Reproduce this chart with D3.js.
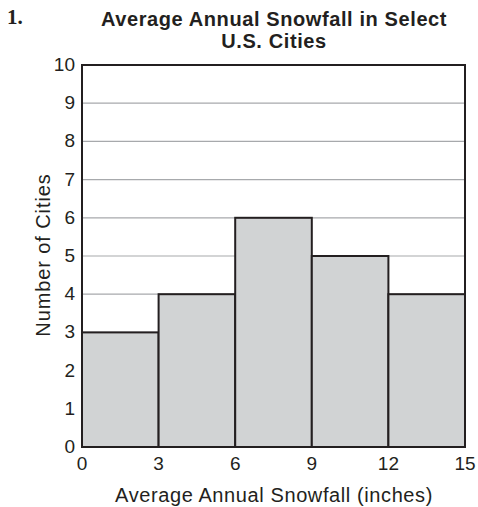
<!DOCTYPE html>
<html>
<head>
<meta charset="utf-8">
<script src="https://cdn.jsdelivr.net/npm/d3@7"></script>
<style>
body { margin: 0; background: #fff; }
text { font-family: "Liberation Sans", Arial, sans-serif; fill: #231f20; }
</style>
</head>
<body>
<div id="chart"></div>
<script>
var width = 478, height = 507;
var margin = {left: 82, right: 13, top: 65, bottom: 60};

var binStarts = [0, 3, 6, 9, 12];
var binSize = 3;
var counts = [3, 4, 6, 5, 4];
var yTicks = [0, 1, 2, 3, 4, 5, 6, 7, 8, 9, 10];
var xTicks = [0, 3, 6, 9, 12, 15];

var svg = d3.select("#chart").append("svg")
    .attr("width", width)
    .attr("height", height);

var x = d3.scaleLinear().domain([0, 15]).range([margin.left, width - margin.right]);
var y = d3.scaleLinear().domain([0, 10]).range([height - margin.bottom, margin.top]);

// gridlines
svg.selectAll("line.grid")
    .data(yTicks.slice(1, -1))
    .enter()
    .append("line")
        .attr("class", "grid")
        .attr("x1", x(0))
        .attr("x2", x(15))
        .attr("y1", function(d) { return y(d); })
        .attr("y2", function(d) { return y(d); })
        .attr("stroke", "#a7a9ac")
        .attr("stroke-width", 1.2);

// bars
svg.selectAll("rect.bar")
    .data(counts)
    .enter()
    .append("rect")
        .attr("class", "bar")
        .attr("x", function(d, i) { return x(binStarts[i]); })
        .attr("y", function(d) { return y(d); })
        .attr("width", function(d, i) { return x(binStarts[i] + binSize) - x(binStarts[i]); })
        .attr("height", function(d) { return y(0) - y(d); })
        .attr("fill", "#d1d3d4")
        .attr("stroke", "#231f20")
        .attr("stroke-width", 2);

// frame
svg.append("rect")
    .attr("x", x(0))
    .attr("y", y(10))
    .attr("width", x(15) - x(0))
    .attr("height", y(0) - y(10))
    .attr("fill", "none")
    .attr("stroke", "#231f20")
    .attr("stroke-width", 2);

// y tick labels
svg.selectAll("text.ytick")
    .data(yTicks)
    .enter()
    .append("text")
        .attr("class", "ytick")
        .attr("x", x(0) - 7)
        .attr("y", function(d) { return y(d) + 6; })
        .attr("text-anchor", "end")
        .attr("font-size", "19px")
        .text(function(d) { return d; });

// x tick labels
svg.selectAll("text.xtick")
    .data(xTicks)
    .enter()
    .append("text")
        .attr("class", "xtick")
        .attr("x", function(d) { return x(d); })
        .attr("y", y(0) + 23)
        .attr("text-anchor", "middle")
        .attr("font-size", "19px")
        .text(function(d) { return d; });

svg.append("text")
    .attr("x", 274)
    .attr("y", 502)
    .attr("text-anchor", "middle")
    .attr("font-size", "20px")
    .attr("letter-spacing", "0.6px")
    .text("Average Annual Snowfall (inches)");

svg.append("text")
    .attr("transform", "translate(50,255) rotate(-90)")
    .attr("text-anchor", "middle")
    .attr("font-size", "20px")
    .attr("letter-spacing", "0.9px")
    .text("Number of Cities");

svg.append("text")
    .attr("x", 274)
    .attr("y", 26)
    .attr("text-anchor", "middle")
    .attr("font-size", "20px")
    .attr("font-weight", "bold")
    .attr("letter-spacing", "0.6px")
    .text("Average Annual Snowfall in Select");

svg.append("text")
    .attr("x", 274)
    .attr("y", 48)
    .attr("text-anchor", "middle")
    .attr("font-size", "20px")
    .attr("font-weight", "bold")
    .attr("letter-spacing", "0.6px")
    .text("U.S. Cities");

svg.append("text")
    .attr("x", 7)
    .attr("y", 24)
    .attr("font-size", "21px")
    .attr("font-weight", "bold")
    .style("font-family", "'Liberation Serif', 'Times New Roman', serif")
    .text("1.");
</script>
</body>
</html>
